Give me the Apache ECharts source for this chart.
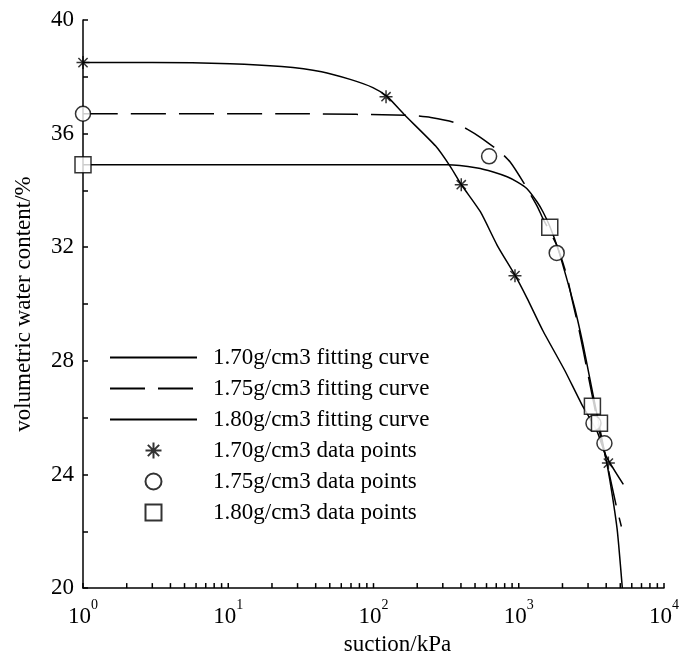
<!DOCTYPE html>
<html><head><meta charset="utf-8">
<script src="https://cdn.jsdelivr.net/npm/echarts@6/dist/echarts.min.js"></script>
<style>html,body{margin:0;padding:0;background:#fff}#c{width:682px;height:661px}</style>
</head><body><div id="c"></div>
<script>
// axis settings
const xMin = 1, xMax = 10000;
const yMin = 20, yMax = 40, yInterval = 2, yLabelStep = 4;
const xMinorTicks = [1,2,3,4,5,6,7,8,9,10,20,30,40,50,60,70,80,90,100,200,300,400,500,600,700,800,900,1000,2000,3000,4000,5000,6000,7000,8000,9000,10000];

// measured data points [suction kPa, volumetric water content %]
const pts170 = [[1,38.5],[122,37.3],[402,34.2],[942,31.0],[4140,24.4]];
const pts175 = [[1,36.7],[625,35.2],[1825,31.8],[3270,25.8],[3890,25.1]];
const pts180 = [[1,34.9],[1635,32.7],[3215,26.4],[3595,25.8]];

// fitting curves
const fit170 = [[1,38.5],[3.0,38.5],[10.3,38.46],[23.3,38.36],[43.9,38.18],[70,37.9],[99,37.62],[124,37.31],[162,36.68],[268,35.56],[339,34.83],[403,34.2],[544,33.25],[712,32.06],[944,31.01],[1140,30.21],[1467,29.06],[2075,27.66],[2714,26.47],[3434,25.56],[4020,24.62],[5250,23.65]];
const fit175 = [[1,36.7],[32,36.7],[181,36.64],[248,36.57],[356,36.4],[444,36.15],[544,35.87],[746,35.35],[873,35.0],[1072,34.3],[1335,33.46],[1467,33.01],[1829,32.06],[2141,31.01],[2316,30.21],[2627,28.99],[2934,27.76],[3276,26.54],[3602,25.49],[3959,24.62],[4347,23.67],[4704,22.87],[5087,22.17]];
const fit180 = [[1,34.9],[32,34.9],[323,34.9],[519,34.79],[668,34.65],[832,34.48],[974,34.3],[1140,34.06],[1335,33.6],[1467,33.25],[1638,32.73],[1859,31.96],[2108,31.01],[2429,29.86],[2754,28.64],[3077,27.41],[3381,26.36],[3717,25.31],[4085,24.27],[4421,23.22],[4778,21.99],[5166,20.0]];

const names = ['1.70g/cm3 fitting curve','1.75g/cm3 fitting curve','1.80g/cm3 fitting curve','1.70g/cm3 data points','1.75g/cm3 data points','1.80g/cm3 data points'];

const FONT = '"Liberation Serif", "Times New Roman", serif';
const FS = 23;
const asterisk = 'path://M0,-10L0,10M-10,0L10,0M-7.07,-7.07L7.07,7.07M-7.07,7.07L7.07,-7.07';
const square = 'path://M0,0H10V10H0Z';

const chart = echarts.init(document.getElementById('c'), null, {renderer:'canvas'});
const lineBase = {type:'line', symbol:'none', smooth:0.2, clip:true, z:3};
const scatBase = {type:'scatter', z:4, itemStyle:{color:'#fff', borderColor:'#000', borderWidth:1.5}};

chart.setOption({
  animation:false,
  backgroundColor:'#fff',
  grid:{left:83, top:20, right:14, bottom:69},
  legend:{
    orient:'vertical', left:104, top:341, itemWidth:87, itemHeight:16, itemGap:8,
    selectedMode:false,
    data:[
      {name:names[0], itemStyle:{opacity:0}},
      {name:names[1], itemStyle:{opacity:0}},
      {name:names[2], itemStyle:{opacity:0}},
      {name:names[3]},
      {name:names[4]},
      {name:names[5], icon:square}
    ],
    textStyle:{fontFamily:FONT, fontSize:FS, color:'#000', padding:[0,0,0,11]}
  },
  xAxis:{
    type:'log', logBase:10, min:xMin, max:xMax,
    name:'suction/kPa', nameLocation:'middle', nameGap:42,
    nameTextStyle:{fontFamily:FONT, fontSize:FS, color:'#000', padding:[0,0,0,48]},
    axisLine:{lineStyle:{color:'#000', width:1.5}},
    axisTick:{show:false}, splitLine:{show:false}, minorTick:{show:false},
    axisLabel:{
      margin:10, color:'#000',
      formatter:function(v){return '{b|10}{s|' + Math.round(Math.log10(v)) + '}';},
      rich:{b:{fontFamily:FONT, fontSize:FS, lineHeight:30, color:'#000', verticalAlign:'bottom'},
            s:{fontFamily:FONT, fontSize:14, lineHeight:16, color:'#000', verticalAlign:'top'}}
    }
  },
  yAxis:{
    type:'value', min:yMin, max:yMax, interval:yInterval,
    name:'volumetric water content/%', nameLocation:'middle', nameGap:48,
    nameTextStyle:{fontFamily:FONT, fontSize:FS, color:'#000'},
    axisLine:{show:true, lineStyle:{color:'#000', width:1.5}},
    axisTick:{show:true, inside:true, length:5, lineStyle:{color:'#000', width:1.5}},
    splitLine:{show:false},
    axisLabel:{margin:9, fontFamily:FONT, fontSize:FS, color:'#000',
      formatter:function(v){return ((v - yMin) % yLabelStep === 0) ? String(v) : '';}}
  },
  series:[
    Object.assign({}, lineBase, {name:names[0], data:fit170, lineStyle:{color:'#000', width:1.5, type:'solid'}, itemStyle:{color:'#000'}}),
    Object.assign({}, lineBase, {name:names[1], data:fit175, lineStyle:{color:'#000', width:1.5, type:[35,13]}, itemStyle:{color:'#000'}}),
    Object.assign({}, lineBase, {name:names[2], data:fit180, lineStyle:{color:'#000', width:1.5, type:'solid'}, itemStyle:{color:'#000'}}),
    Object.assign({}, scatBase, {name:names[3], data:pts170, symbol:asterisk, symbolSize:13, itemStyle:{color:'#000', borderColor:'#000', borderWidth:1.5}}),
    Object.assign({}, scatBase, {name:names[4], data:pts175, symbol:'circle', symbolSize:15}),
    Object.assign({}, scatBase, {name:names[5], data:pts180, symbol:square, symbolSize:16}),
    {
      type:'custom', name:'xticks', silent:true, clip:false, z:5,
      data:xMinorTicks.map(v => [v, yMin]),
      renderItem:function(params, api){
        const p = api.coord([api.value(0), api.value(1)]);
        return {type:'line', shape:{x1:p[0], y1:p[1], x2:p[0], y2:p[1]-5}, style:{stroke:'#000', lineWidth:1.5}};
      }
    }
  ]
});
</script>
</body></html>
